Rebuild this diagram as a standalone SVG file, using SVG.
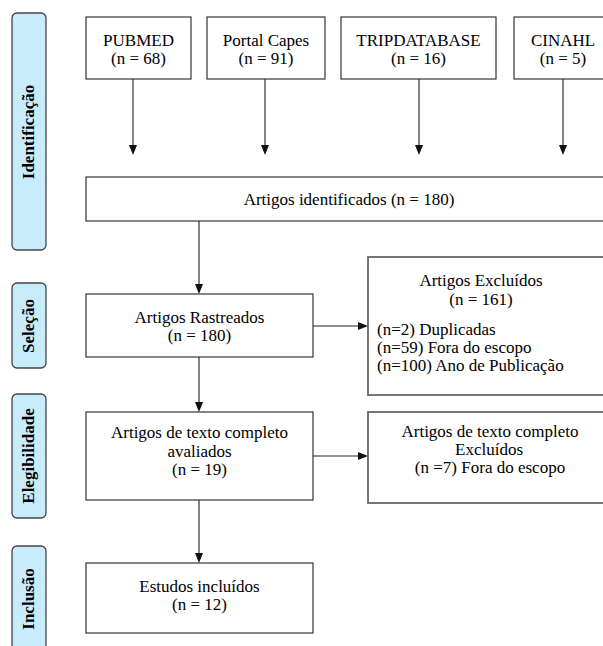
<svg xmlns="http://www.w3.org/2000/svg" width="603" height="646" viewBox="0 0 603 646">
<rect x="0" y="0" width="603" height="646" fill="#ffffff"/>
<g id="side-identificacao"><rect x="12" y="13" width="34" height="237" rx="5" fill="#C8ECFB" stroke="#444" stroke-width="1.3"/><text font-family="Liberation Serif" font-size="17" font-weight="bold" text-anchor="middle" transform="translate(34,132) rotate(-90)">Identificação</text></g>
<g id="side-selecao"><rect x="12" y="283" width="34" height="85" rx="5" fill="#C8ECFB" stroke="#444" stroke-width="1.3"/><text font-family="Liberation Serif" font-size="17" font-weight="bold" text-anchor="middle" transform="translate(34,326) rotate(-90)">Seleção</text></g>
<g id="side-elegibilidade"><rect x="12" y="394" width="34" height="124" rx="5" fill="#C8ECFB" stroke="#444" stroke-width="1.3"/><text font-family="Liberation Serif" font-size="17" font-weight="bold" text-anchor="middle" transform="translate(34,456) rotate(-90)">Elegibilidade</text></g>
<g id="side-inclusao"><rect x="12" y="546" width="34" height="120" rx="5" fill="#C8ECFB" stroke="#444" stroke-width="1.3"/><text font-family="Liberation Serif" font-size="17" font-weight="bold" text-anchor="middle" transform="translate(34,599) rotate(-90)">Inclusão</text></g>
<g id="pubmed"><rect x="86" y="17" width="105" height="62" fill="#fff" stroke="#222" stroke-width="1.1"/><text font-family="Liberation Serif" font-size="17" text-anchor="middle" x="138.5" y="46">PUBMED</text><text font-family="Liberation Serif" font-size="17" text-anchor="middle" x="138.5" y="64">(n = 68)</text></g>
<g id="portal-capes"><rect x="207" y="17" width="118" height="62" fill="#fff" stroke="#222" stroke-width="1.1"/><text font-family="Liberation Serif" font-size="17" text-anchor="middle" x="266" y="46">Portal Capes</text><text font-family="Liberation Serif" font-size="17" text-anchor="middle" x="266" y="64">(n = 91)</text></g>
<g id="tripdatabase"><rect x="341" y="17" width="155" height="62" fill="#fff" stroke="#222" stroke-width="1.1"/><text font-family="Liberation Serif" font-size="17" text-anchor="middle" x="418.5" y="46">TRIPDATABASE</text><text font-family="Liberation Serif" font-size="17" text-anchor="middle" x="418.5" y="64">(n = 16)</text></g>
<g id="cinahl"><rect x="514" y="17" width="98" height="62" fill="#fff" stroke="#222" stroke-width="1.1"/><text font-family="Liberation Serif" font-size="17" text-anchor="middle" x="563" y="46">CINAHL</text><text font-family="Liberation Serif" font-size="17" text-anchor="middle" x="563" y="64">(n = 5)</text></g>
<g id="identificados"><rect x="86" y="177" width="526" height="44" fill="#fff" stroke="#222" stroke-width="1.1"/><text font-family="Liberation Serif" font-size="17" text-anchor="middle" x="349" y="205">Artigos identificados (n = 180)</text></g>
<g id="rastreados"><rect x="86" y="294" width="227" height="63" fill="#fff" stroke="#222" stroke-width="1.1"/><text font-family="Liberation Serif" font-size="17" text-anchor="middle" x="199.5" y="323">Artigos Rastreados</text><text font-family="Liberation Serif" font-size="17" text-anchor="middle" x="199.5" y="341">(n = 180)</text></g>
<g id="excluidos"><rect x="368" y="257" width="244" height="138" fill="#fff" stroke="#666" stroke-width="1.8"/><text font-family="Liberation Serif" font-size="17" text-anchor="middle" x="481" y="286">Artigos Excluídos</text><text font-family="Liberation Serif" font-size="17" text-anchor="middle" x="481" y="305">(n = 161)</text><text font-family="Liberation Serif" font-size="17" x="377" y="335">(n=2) Duplicadas</text><text font-family="Liberation Serif" font-size="17" x="377" y="353">(n=59) Fora do escopo</text><text font-family="Liberation Serif" font-size="17" x="377" y="371">(n=100) Ano de Publicação</text></g>
<g id="avaliados"><rect x="86" y="412" width="227" height="88" fill="#fff" stroke="#222" stroke-width="1.1"/><text font-family="Liberation Serif" font-size="17" text-anchor="middle" x="199.5" y="438">Artigos de texto completo</text><text font-family="Liberation Serif" font-size="17" text-anchor="middle" x="199.5" y="457">avaliados</text><text font-family="Liberation Serif" font-size="17" text-anchor="middle" x="199.5" y="475">(n = 19)</text></g>
<g id="excluidos-texto"><rect x="368" y="412" width="244" height="91" fill="#fff" stroke="#666" stroke-width="1.8"/><text font-family="Liberation Serif" font-size="17" text-anchor="middle" x="490" y="437">Artigos de texto completo</text><text font-family="Liberation Serif" font-size="17" text-anchor="middle" x="489" y="455">Excluídos</text><text font-family="Liberation Serif" font-size="17" text-anchor="middle" x="490" y="473">(n =7) Fora do escopo</text></g>
<g id="incluidos"><rect x="86" y="563" width="227" height="70" fill="#fff" stroke="#222" stroke-width="1.1"/><text font-family="Liberation Serif" font-size="17" text-anchor="middle" x="199.5" y="592">Estudos incluídos</text><text font-family="Liberation Serif" font-size="17" text-anchor="middle" x="199.5" y="610">(n = 12)</text></g>
<g id="connectors">
<path d="M133 79V146M265 79V146M419 79V146M563 79V146M199 221V285M199 357V403M199 500V554M313 326H359M313 456H359" stroke="#222" stroke-width="1.1" fill="none"/>
<path d="M129 145L137 145L133 155ZM261 145L269 145L265 155ZM415 145L423 145L419 155ZM559 145L567 145L563 155ZM195 284L203 284L199 294ZM195 402L203 402L199 412ZM195 553L203 553L199 563ZM358 322L358 330L368 326ZM358 452L358 460L368 456Z" fill="#111"/>
</g>
</svg>
